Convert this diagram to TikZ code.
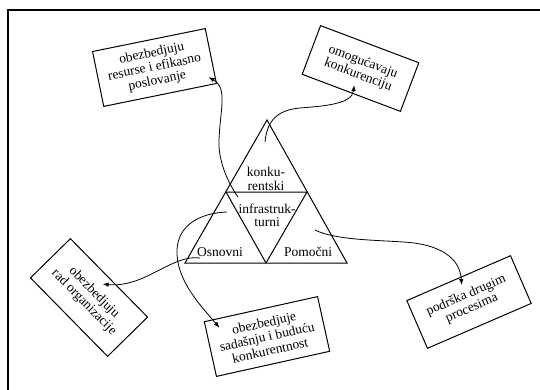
\documentclass[tikz,border=0pt]{standalone}
\usepackage{fontspec}
\setmainfont{Liberation Serif}
\usetikzlibrary{arrows.meta,calc}
\begin{document}
\begin{tikzpicture}[x=1pt,y=-1pt,
  box/.style={draw, line width=1pt, align=center, inner sep=0pt,
    font=\fontsize{13.5}{14}\selectfont},
  lbl/.style={align=center, inner sep=0pt, font=\fontsize{13.5}{13.5}\selectfont},
  tri/.style={line width=1pt, line join=miter},
  link/.style={line width=0.8pt, -{Latex[length=6pt,width=4.5pt]}},
  frame/.style={line width=1.1pt}]
\useasboundingbox (0,0) rectangle (540,390);

% outer frame (top and left sides)
\draw[frame] (540,10) -- (8,10) -- (8,390);

% triangle of process groups
\coordinate (T)  at (267,120);
\coordinate (BL) at (185,263);
\coordinate (BR) at (347,263);
\coordinate (BM) at (266,263);
\coordinate (ML) at (226,192);
\coordinate (MR) at (307,192);
\draw[tri] (T) -- (BR) -- (BL) -- cycle;
\draw[tri] (ML) -- (MR) -- (BM) -- cycle;

\node[lbl] (konk)  at (266,179)   {konku-\\rentski};
\node[lbl] (infra) at (267,215.5) {infrastruk-\\turni};
\node[lbl] (osn)   at (220,252)   {Osnovni};
\node[lbl] (pom)   at (308,252)   {Pomočni};

% outcome boxes
\node[box, rotate=11.5, minimum width=115pt, minimum height=56pt] (b1) at (154.5,67.5)
  {obezbedjuju\\resurse i efikasno\\poslovanje};
\node[box, rotate=-20.7, minimum width=105pt, minimum height=52pt] (b2) at (360.5,68.5)
  {omogućavaju\\konkurenciju};
\node[box, rotate=-45.5, minimum width=110pt, minimum height=56pt] (b3) at (89,297.5)
  {obezbedjuju\\rad organizacije};
\node[box, rotate=12.5, minimum width=116pt, minimum height=56pt] (b4) at (267,336.5)
  {obezbedjuje\\sadašnju i buduću\\konkurentnost};
\node[box, rotate=23.4, minimum width=113pt, minimum height=52pt] (b5) at (469,302)
  {podrška drugim\\procesima};

% start points inside the triangle
\coordinate (sA) at (238,197);
\coordinate (sB) at (265,142);
\coordinate (sC) at (227,212);
\coordinate (sD) at (200,258);
\coordinate (sE) at (315,230);

% arrow tips inside the boxes
\coordinate (tA) at ($(b1.center)!0.88!(b1.east)+0.71*(b1.south)-0.71*(b1.center)$);
\coordinate (tB) at ($(b2.center)!0.67!(b2.south)$);
\coordinate (tC) at ($(b4.center)!0.76!(b4.west)+0.66*(b4.north)-0.66*(b4.center)$);
\coordinate (tD) at ($(b3.center)!0.67!(b3.north)$);
\coordinate (tE) at ($(b5.center)!0.7!(b5.north)$);

% curved connectors
\draw[link] (sA) .. controls (226,180) and (218,158) .. (219,140)
                 .. controls (220,110) and (228,88) .. (tA);
\draw[link] (sB) .. controls (267,120) and (278,110) .. (300,108)
                 .. controls (325,106) and (352,104) .. (tB);
\draw[link] (sC) .. controls (200,213) and (178,225) .. (177,250)
                 .. controls (176,280) and (200,305) .. (tC);
\draw[link] (sD) .. controls (172,254) and (145,288) .. (tD);
\draw[link] (sE) .. controls (335,240) and (375,240) .. (403,242)
                 .. controls (440,244) and (460,258) .. (tE);
\end{tikzpicture}
\end{document}
